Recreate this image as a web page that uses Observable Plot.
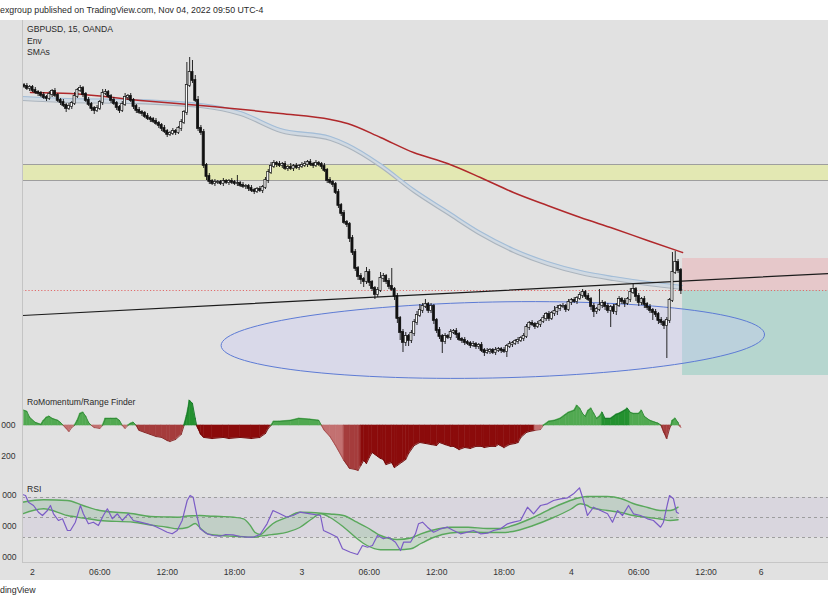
<!DOCTYPE html>
<html>
<head>
<meta charset="utf-8">
<script src="https://cdn.jsdelivr.net/npm/d3@7"></script>
<script src="https://cdn.jsdelivr.net/npm/@observablehq/plot@0.6"></script>
<style>
  html,body{margin:0;padding:0;background:#fff;}
  body{font-family:"Liberation Sans",Arial,Helvetica,sans-serif;}
  #wrap{position:relative;width:828px;height:604px;overflow:hidden;background:#fff;}
  #header{position:absolute;left:0;top:0;width:828px;height:20px;line-height:20px;font-size:8.8px;color:#2a2a2a;white-space:nowrap;}
  #chart{position:absolute;left:0;top:20px;width:828px;height:560px;background:#e1e1e1;overflow:hidden;}
  .pane{position:absolute;left:0;width:828px;}
  .pane svg{display:block;}
  .lbl{position:absolute;left:27px;font-size:8.6px;line-height:10px;color:#2a2a2a;white-space:nowrap;}
  #footer{position:absolute;left:0;top:585px;font-size:8.8px;line-height:10px;color:#2a2a2a;white-space:nowrap;}
</style>
</head>
<body>
<div id="wrap">
  <div id="header">exgroup published on TradingView.com, Nov 04, 2022 09:50 UTC-4</div>
  <div id="chart">
    <div id="price" class="pane" style="top:0px"></div>
    <div id="mom" class="pane" style="top:370px"></div>
    <div id="rsi" class="pane" style="top:455px"></div>
    <div class="lbl" style="top:4px">GBPUSD, 15, OANDA</div>
    <div class="lbl" style="top:16px">Env</div>
    <div class="lbl" style="top:27px">SMAs</div>
    <div class="lbl" style="top:377px">RoMomentum/Range Finder</div>
    <div class="lbl" style="top:464px">RSI</div>
  </div>
  <div id="footer">dingView</div>
</div>
<script>
// ---------- time axis (hours since Nov 2, 00:00) ----------
const X_DOMAIN = [-0.89, 70.9];
const xTickHours  = [0, 6, 12, 18, 24, 30, 36, 42, 48, 54, 60, 64.9];
const xTickLabels = ["2", "06:00", "12:00", "18:00", "3", "06:00", "12:00", "18:00", "4", "06:00", "12:00", "6"];

// ---------- GBPUSD 15m candles ----------
const barStart = -0.75;   // first bar, Nov 1 23:15
const barStep = 0.25;     // 15 minutes
const PIP = 0.0001;
const firstOpen = 1.1415;
const closes = [
1.1414,1.1412,1.1413,1.1410,1.1408,1.1407,1.1405,1.1403,1.1402,1.1406,
1.1409,1.1405,1.1400,1.1398,1.1395,1.1392,1.1394,1.1397,1.1404,1.1410,
1.1412,1.1406,1.1400,1.1396,1.1392,1.1390,1.1392,1.1398,1.1407,1.1408,
1.1404,1.1400,1.1397,1.1393,1.1390,1.1396,1.1403,1.1404,1.1400,1.1394,
1.1390,1.1388,1.1387,1.1384,1.1382,1.1381,1.1379,1.1377,1.1375,1.1372,
1.1369,1.1366,1.1367,1.1369,1.1368,1.1372,1.1378,1.1388,1.1415,1.1428,
1.1420,1.1400,1.1372,1.1368,1.1335,1.1324,1.1319,1.1317,1.1318,1.1318,
1.1317,1.1319,1.1318,1.1319,1.1318,1.1317,1.1317,1.1315,1.1314,1.1314,
1.1312,1.1310,1.1309,1.1311,1.1310,1.1313,1.1320,1.1328,1.1334,1.1337,
1.1336,1.1335,1.1336,1.1332,1.1333,1.1332,1.1334,1.1333,1.1334,1.1335,
1.1336,1.1338,1.1336,1.1335,1.1337,1.1336,1.1334,1.1330,1.1320,1.1318,
1.1316,1.1308,1.1295,1.1287,1.1278,1.1276,1.1262,1.1248,1.1232,1.1224,
1.1221,1.1219,1.1228,1.1218,1.1212,1.1206,1.1210,1.1222,1.1224,1.1219,
1.1214,1.1211,1.1204,1.1182,1.1168,1.1158,1.1164,1.1160,1.1167,1.1178,
1.1185,1.1190,1.1194,1.1196,1.1190,1.1194,1.1180,1.1170,1.1164,1.1159,
1.1164,1.1163,1.1168,1.1169,1.1166,1.1161,1.1160,1.1158,1.1157,1.1155,
1.1156,1.1154,1.1155,1.1150,1.1148,1.1149,1.1150,1.1148,1.1150,1.1151,
1.1150,1.1149,1.1154,1.1156,1.1157,1.1159,1.1160,1.1162,1.1164,1.1173,
1.1177,1.1176,1.1174,1.1176,1.1179,1.1182,1.1186,1.1182,1.1187,1.1189,
1.1192,1.1194,1.1194,1.1191,1.1198,1.1200,1.1199,1.1202,1.1205,1.1208,
1.1204,1.1201,1.1194,1.1189,1.1191,1.1195,1.1197,1.1194,1.1190,1.1193,
1.1189,1.1195,1.1201,1.1199,1.1197,1.1201,1.1208,1.1211,1.1204,1.1198,
1.1201,1.1196,1.1193,1.1190,1.1188,1.1186,1.1180,1.1178,1.1175,1.1180,
1.1200,1.1228,1.1238,1.1230,1.1210];
const upperWickPips = [
2,3,2,2,3,2,2,3,2,3, 2,3,2,2,3,2,3,2,4,2, 3,2,2,3,2,2,3,2,4,3, 2,2,3,2,2,3,4,2,3,2,
2,3,2,2,3,2,2,3,2,2, 3,2,2,3,2,2,3,2,23,15, 12,5,4,3,3,2,3,2,3,2, 2,3,2,2,3,2,8,2,3,2,
2,3,2,2,3,2,3,3,4,3, 2,3,2,3,2,4,2,3,2,3, 3,2,3,2,3,2,2,3,2,3, 2,2,3,2,3,2,2,3,3,2,
3,2,5,3,2,2,3,6,3,2, 3,18,2,3,2,3,4,2,3,3, 4,6,3,5,2,3,2,2,3,2, 3,2,3,2,3,2,2,3,2,2,
3,2,2,3,2,3,2,2,3,2, 2,3,2,3,2,2,3,2,3,3, 2,3,2,3,2,3,2,3,2,5, 3,2,3,2,3,2,3,2,3,3,
2,3,2,3,2,16,3,2,3,2, 3,2,3,2,3,2,4,5,2,3, 2,3,2,3,2,3,2,3,2,3, 2,20,11,3,2];
const lowerWickPips = [
2,2,3,2,2,3,2,2,3,2, 3,2,2,3,2,4,2,3,2,2, 2,3,2,2,3,4,2,2,3,2, 2,3,2,3,3,2,2,3,2,3,
3,2,3,2,2,3,2,2,3,3, 2,3,2,2,3,2,3,2,3,2, 3,2,3,3,3,4,3,2,3,2, 2,3,2,3,2,2,3,2,2,3,
3,2,3,2,2,3,2,3,2,2, 3,2,3,2,3,2,3,2,3,2, 2,3,2,3,2,2,3,2,3,2, 3,2,3,3,2,3,4,3,3,4,
5,6,3,4,3,5,3,2,4,3, 3,2,4,5,8,10,4,6,3,3, 3,2,3,2,3,3,4,3,3,12, 3,2,3,2,4,2,3,3,2,3,
2,3,3,2,4,2,3,2,3,2, 3,2,6,2,3,2,3,2,3,2, 3,2,3,2,3,2,3,3,2,3, 4,3,2,3,2,3,2,3,2,3,
3,2,4,6,3,2,3,4,3,17, 3,4,2,3,4,2,3,2,5,4, 3,4,3,3,8,3,4,3,4,33, 3,2,2,3,4];

// ---------- price-pane overlays ----------
const PRICE_DOMAIN = [1.1110, 1.1480];
const smaRed = [[-0.18,1.1408],[3.38,1.1407],[9.6,1.1400],[14.96,1.1395],[22.09,1.1387],[26.54,1.1381],[28.06,1.1377],[31.0,1.1363],[33.94,1.1348],[36.97,1.1337],[39.9,1.1323],[42.84,1.1308],[45.87,1.1295],[48.81,1.1283],[51.75,1.1272],[54.78,1.1260],[57.9,1.1248]];
const envH  = [-0.89,3.12,8.73,14.96,18.53,22.09,26.54,28.06,31.0,33.94,36.97,39.9,42.84,45.87,48.81,51.75,54.78,57.9];
const envUp = [1.1404,1.1402,1.1401,1.1397,1.1389,1.1372,1.1364,1.1357,1.1337,1.1312,1.1290,1.1269,1.1252,1.1239,1.1230,1.1224,1.1219,1.1215];
const envLo = [1.1400,1.1398,1.1397,1.1393,1.1385,1.1368,1.1360,1.1353,1.1333,1.1308,1.1286,1.1265,1.1248,1.1235,1.1226,1.1220,1.1215,1.1211];
const trendLine = [[-0.89,1.1185],[70.9,1.1227]];
const supplyZone = {lo: 1.1320, hi: 1.1336};
const lastPrice = 1.1210;
const positionBoxes = [
  {from: 57.9, to: 70.9, lo: 1.1210, hi: 1.1242, fill: "#e6c8ca"},
  {from: 57.9, to: 70.9, lo: 1.1125, hi: 1.1210, fill: "#b6d6cf"}
];
const ellipse = {h: 41.0, p: 1.11605, rh: 24.2, rp: 0.0038, tilt: 0.0000227};

// ---------- RoMomentum / Range Finder: [hour, value, shade] ----------
const MOM_DOMAIN = [-0.03226, 0.02258];
const momTicks = [0, -0.02];
const momAxisLabels = ["000", "200"];
const momentum = [
[-0.75,0.0097,'g'],[-0.5,0.0090,'g'],[-0.25,0.0052,'g'],[0.25,0.0019,'g'],[0.75,0.0006,'g'],[1.0,0.0032,'g'],[1.25,0.0052,'g'],[1.5,0.0058,'g'],[1.75,0.0045,'g'],[2.25,0.0032,'g'],[2.5,0.0019,'g'],[2.75,0,'g'],
[3.0,-0.0019,'p'],[3.25,-0.0039,'p'],[3.5,-0.0013,'p'],[3.75,0,'p'],
[4.0,0.0032,'g'],[4.25,0.0077,'g'],[4.5,0.0084,'g'],[4.75,0.0058,'g'],[5.0,0.0019,'g'],[5.25,0,'g'],
[5.5,-0.0013,'p'],[6.0,-0.0019,'p'],[6.25,0,'p'],
[6.5,0.0045,'g'],[7.0,0.0045,'g'],[7.5,0.0045,'g'],[7.75,0.0032,'g'],[8.0,0,'g'],
[8.25,-0.0019,'p'],[8.5,0,'p'],
[8.75,0.0013,'g'],[9.0,0.0019,'g'],[9.25,0,'g'],
[9.5,-0.0032,'m'],[10.0,-0.0045,'m'],[10.5,-0.0058,'m'],[11.0,-0.0071,'m'],[11.5,-0.0077,'m'],[12.0,-0.0097,'m'],[12.25,-0.0103,'m'],[12.75,-0.0090,'m'],[13.25,-0.0058,'m'],[13.5,0,'m'],
[13.75,0.0065,'G'],[14.0,0.0161,'G'],[14.25,0.0142,'G'],[14.5,0.0045,'G'],[14.625,0,'G'],
[14.75,-0.0019,'d'],[15.0,-0.0058,'d'],[15.25,-0.0077,'d'],[16.0,-0.0084,'d'],[17.0,-0.0077,'d'],[17.5,-0.0084,'d'],[18.5,-0.0077,'d'],[19.5,-0.0084,'d'],[20.25,-0.0077,'d'],[20.75,-0.0052,'d'],[21.0,-0.0019,'d'],[21.25,0,'d'],
[21.5,0.0026,'g'],[22.0,0.0026,'g'],[23.0,0.0032,'g'],[23.75,0.0045,'g'],[24.75,0.0039,'g'],[25.5,0.0032,'g'],[25.75,0,'g'],
[26.0,-0.0032,'p'],[26.5,-0.0071,'p'],[27.0,-0.0129,'p'],[27.25,-0.0161,'p'],[27.75,-0.0226,'p'],
[28.25,-0.0277,'m'],[28.75,-0.0284,'m'],[29.0,-0.0290,'m'],[29.25,-0.0258,'m'],
[29.5,-0.0226,'d'],[29.75,-0.0245,'d'],[30.0,-0.0206,'d'],[30.25,-0.0174,'d'],[30.75,-0.0200,'d'],[31.0,-0.0213,'d'],[31.25,-0.0219,'d'],[31.5,-0.0252,'d'],[32.0,-0.0239,'d'],[32.25,-0.0271,'d'],[32.5,-0.0258,'d'],[33.0,-0.0232,'d'],[33.25,-0.0219,'d'],[33.5,-0.0181,'d'],[34.0,-0.0129,'d'],[34.5,-0.0110,'d'],[35.0,-0.0116,'d'],[35.5,-0.0123,'d'],[36.0,-0.0129,'d'],[36.25,-0.0110,'d'],[36.75,-0.0123,'d'],[37.25,-0.0135,'d'],[37.5,-0.0135,'d'],[38.0,-0.0155,'d'],[38.5,-0.0142,'d'],[39.0,-0.0148,'d'],[39.5,-0.0135,'d'],[40.0,-0.0135,'d'],[40.25,-0.0142,'d'],[40.75,-0.0135,'d'],[41.25,-0.0135,'d'],[41.5,-0.0123,'d'],[42.0,-0.0142,'d'],[42.5,-0.0123,'d'],[43.0,-0.0116,'d'],[43.25,-0.0110,'d'],[43.5,-0.0077,'d'],[44.0,-0.0045,'d'],[44.25,-0.0039,'d'],[44.75,-0.0032,'d'],
[45.25,-0.0026,'p'],[45.5,0,'p'],
[46.0,0.0026,'g'],[46.5,0.0032,'g'],[47.0,0.0045,'g'],[47.5,0.0071,'g'],[47.75,0.0084,'g'],[48.25,0.0097,'g'],[48.5,0.0129,'g'],[48.75,0.0110,'g'],[49.0,0.0077,'g'],[49.25,0.0058,'g'],[49.5,0.0097,'g'],[49.75,0.0110,'g'],[50.0,0.0077,'g'],[50.25,0.0045,'g'],[50.5,0.0058,'g'],[50.75,0.0084,'g'],
[51.0,0.0045,'G'],[51.5,0.0045,'G'],[52.0,0.0071,'G'],[52.25,0.0077,'G'],[52.75,0.0097,'G'],[53.0,0.0110,'G'],[53.25,0.0084,'G'],
[53.5,0.0077,'g'],[54.0,0.0077,'g'],[54.25,0.0097,'g'],[54.5,0.0058,'g'],[55.0,0.0032,'g'],[55.5,0.0019,'g'],[55.75,0.0013,'g'],[56.0,0,'g'],
[56.25,-0.0045,'m'],[56.5,-0.0084,'m'],[56.75,-0.0019,'m'],[56.875,0,'m'],
[57.0,0.0032,'g'],[57.25,0.0045,'g'],[57.5,0.0019,'g'],[57.6,0,'g'],
[57.75,-0.0013,'p']];
const MOM_FILL = {g: "#51a951", G: "#23912f", p: "#c37171", m: "#a53c3c", d: "#8b0b0b"};
const MOM_EDGE = {g: "#2f8a35", G: "#17782a", p: "#a44c4c", m: "#862626", d: "#6e0505"};

// ---------- RSI ----------
const RSI_DOMAIN = [5, 92];
const rsiLevels = [70, 50, 30];
const rsiAxisTicks = [72, 41, 10];
const rsiAxisLabels = ["000", "000", "000"];
const rsi = [
[-0.89,73],[-0.62,72],[-0.36,65.3],[0.09,62],[0.53,55.3],[0.89,52],[1.33,57],[1.6,62],[1.87,53.7],[2.31,47],[2.67,48.7],[3.11,37],[3.38,37],[3.82,45.3],[4.27,62],[4.53,53.7],[4.98,43.7],[5.42,45.3],[5.87,42],[6.31,52],[6.67,58.7],[7.11,48.7],[7.56,53.7],[8.0,47],[8.53,53.7],[8.98,47],[9.6,45.3],[10.22,43.7],[10.76,42],[11.38,38.7],[12.0,35.3],[12.44,33.7],[12.89,37],[13.33,47],[13.78,67],[14.04,72],[14.31,70.3],[14.67,50.3],[14.93,38.7],[15.56,33.7],[16.09,32],[16.71,31.3],[17.2,33],[17.87,32.7],[18.49,31],[19.11,30.3],[19.64,30.3],[20.27,33],[20.89,43.7],[21.42,57],[22.04,53.7],[22.67,50.3],[23.2,52],[23.82,55.3],[24.76,53.7],[25.65,52],[25.92,37],[26.54,33.7],[27.16,30.3],[27.61,18.7],[28.32,15.3],[28.95,13],[29.39,22],[29.84,20.3],[30.28,22],[30.73,32],[31.26,28.7],[31.71,30.3],[32.33,25.3],[32.78,17],[33.05,25.3],[33.67,25.3],[34.11,33.7],[34.38,43.7],[34.74,45.3],[35.18,40.3],[35.72,35.3],[36.07,37],[36.34,38.7],[36.96,40.3],[37.5,37],[38.12,33.7],[38.75,35.3],[39.28,37],[39.9,33.7],[40.53,34.3],[41.06,37],[41.69,38.7],[42.31,43.7],[42.84,45.3],[43.47,47],[44.09,60.3],[44.36,57],[44.63,53.7],[45.25,62],[45.87,63.7],[46.41,67],[47.03,68.7],[47.66,69.7],[48.19,73.7],[48.72,79.7],[48.99,70.3],[49.43,52],[49.97,60.3],[50.59,57],[51.22,53.7],[51.66,45.3],[52.11,57],[52.55,52],[53.09,62],[53.53,53.7],[54.16,52],[54.78,48.7],[55.31,47],[55.94,40.3],[56.2,45.3],[56.56,63.7],[56.74,72],[57.09,68.7],[57.36,55.3],[57.54,54.3]];
const bandH  = [-0.89,1.0,3.1,4.5,6.0,9.0,10.5,12.0,12.9,13.8,14.5,14.9,15.6,16.7,17.9,18.8,19.4,19.8,20.3,20.9,21.4,22.7,23.8,24.8,25.7,26.5,27.7,28.9,29.8,31.0,32.5,33.7,34.6,35.7,37.2,38.8,40.5,41.7,42.8,44.6,46.4,47.9,48.8,49.4,49.7,51.2,52.4,53.5,54.8,55.9,56.8,57.5];
const bandUp = [65.3,67.7,67,62,57,53.7,51,50.5,50.3,51.5,51.8,52,51.5,51,50.3,48.7,42,35.3,33,38.7,43.7,50.3,55.3,55,54.3,53.5,52,45.3,40,32,28,29.5,33.7,37.5,40.3,40.3,39,39,42,50,60,67,70,71,71,71,69,64,60,57,57,60.3];
const bandLo = [53.7,58.7,52,49.5,47,45.3,42.5,40.3,38.7,40,44,40,33.7,32,31.2,30.7,30.4,30.3,31.5,32.2,33,35.3,40,48,53.7,50,40.5,29,22,17.8,17.7,18.7,24,30,34.5,35.5,35,35,36,42,50,58,63.7,62,60,57,55,52,50,48.5,47,47.7];

// ---------- build tables ----------
const bars = closes.map((c, i) => {
  const o = i === 0 ? firstOpen : closes[i - 1];
  return {t: barStart + barStep * i, o, c,
          hi: Math.max(o, c) + upperWickPips[i] * PIP,
          lo: Math.min(o, c) - lowerWickPips[i] * PIP};
});
const envRows = envH.map((h, i) => ({h, up: envUp[i], lo: envLo[i]}));
const smaRows = smaRed.map(([h, p]) => ({h, p}));
const trendRows = trendLine.map(([h, p]) => ({h, p}));
const ellipsePts = d3.range(0, 361, 3).map(deg => {
  const a = deg * Math.PI / 180, dh = ellipse.rh * Math.cos(a);
  return {h: ellipse.h + dh, p: ellipse.p + ellipse.rp * Math.sin(a) + ellipse.tilt * dh};
});
const momRows = [];
for (let i = 1; i < momentum.length; i++) {
  const a = momentum[i - 1], b = momentum[i];
  momRows.push({seg: i, h: a[0], v: a[1], s: b[2]}, {seg: i, h: b[0], v: b[1], s: b[2]});
}
const rsiRows = rsi.map(([h, v]) => ({h, v}));
const bandRows = bandH.map((h, i) => ({h, up: bandUp[i], lo: bandLo[i]}));

const FONT = "'Liberation Sans', Arial, Helvetica, sans-serif";
const common = {
  width: 828, marginLeft: 22, marginRight: 0,
  color: {type: "identity"},
  style: {background: "transparent", fontFamily: FONT, fontSize: "8.6px", color: "#333", overflow: "hidden"}
};

// ---------- price pane ----------
const pricePlot = Plot.plot({
  ...common, height: 370, marginTop: 0, marginBottom: 0,
  x: {domain: X_DOMAIN, axis: null},
  y: {domain: PRICE_DOMAIN, axis: null},
  marks: [
    Plot.rect([supplyZone], {x1: X_DOMAIN[0], x2: X_DOMAIN[1], y1: "lo", y2: "hi", fill: "#e3e8b3"}),
    Plot.ruleY([supplyZone.lo, supplyZone.hi], {stroke: "#9e9e9e", strokeWidth: 1}),
    Plot.rect(positionBoxes, {x1: "from", x2: "to", y1: "lo", y2: "hi", fill: "fill", clip: true}),
    Plot.line(ellipsePts, {x: "h", y: "p", fill: "rgba(200,200,252,0.30)", stroke: "#5d7bd5", strokeWidth: 1, clip: true}),
    Plot.ruleY([lastPrice], {stroke: "#e06b6b", strokeDasharray: "1.2,2", strokeWidth: 1}),
    Plot.areaY(envRows, {x: "h", y1: "lo", y2: "up", fill: "#d0d9e2", curve: "monotone-x", clip: true}),
    Plot.line(envRows, {x: "h", y: "up", stroke: "#a3bdd7", strokeWidth: 1.2, curve: "monotone-x", clip: true}),
    Plot.line(envRows, {x: "h", y: "lo", stroke: "#aab4be", strokeWidth: 1.2, curve: "monotone-x", clip: true}),
    Plot.line(smaRows, {x: "h", y: "p", stroke: "#b0282b", strokeWidth: 1.5, curve: "monotone-x", clip: true}),
    Plot.line(trendRows, {x: "h", y: "p", stroke: "#1c1c1c", strokeWidth: 1.2, clip: true}),
    Plot.ruleX(bars, {x: "t", y1: "lo", y2: "hi", stroke: "#111", strokeWidth: 0.9, clip: true}),
    Plot.rect(bars, {x1: d => d.t - 0.095, x2: d => d.t + 0.095, y1: "o", y2: "c",
      fill: d => d.c >= d.o ? "#fafafa" : "#111", stroke: "#111", strokeWidth: 0.7,
      insetTop: -0.4, insetBottom: -0.4, clip: true}),
    Plot.frame({anchor: "left", stroke: "#c4c4c4"})
  ]
});
document.getElementById("price").appendChild(pricePlot);

// ---------- momentum pane ----------
const momPlot = Plot.plot({
  ...common, height: 85, marginTop: 0, marginBottom: 0,
  x: {domain: X_DOMAIN, axis: null},
  y: {domain: MOM_DOMAIN},
  marks: [
    Plot.areaY(momRows, {x: "h", y1: 0, y2: "v", z: "seg", fill: d => MOM_FILL[d.s], stroke: d => MOM_FILL[d.s], strokeWidth: 0.6, clip: true}),
    Plot.line(momRows, {x: "h", y: "v", z: "seg", stroke: d => MOM_EDGE[d.s], strokeWidth: 0.9, clip: true}),
    Plot.axisY({anchor: "left", ticks: momTicks, tickFormat: d => momAxisLabels[momTicks.indexOf(d)], tickSize: 0, tickPadding: 7, label: null}),
    Plot.frame({anchor: "left", stroke: "#c4c4c4"})
  ]
});
document.getElementById("mom").appendChild(momPlot);

// ---------- RSI pane ----------
const rsiPlot = Plot.plot({
  ...common, height: 105, marginTop: 0, marginBottom: 18,
  x: {domain: X_DOMAIN},
  y: {domain: RSI_DOMAIN},
  marks: [
    Plot.rect([{lo: 30, hi: 70}], {x1: X_DOMAIN[0], x2: X_DOMAIN[1], y1: "lo", y2: "hi", fill: "rgba(126,87,194,0.075)"}),
    Plot.ruleY(rsiLevels, {stroke: "#8e8e8e", strokeDasharray: "3,3", strokeWidth: 0.8}),
    Plot.areaY(bandRows, {x: "h", y1: "lo", y2: "up", fill: "rgba(80,170,85,0.17)", curve: "monotone-x", clip: true}),
    Plot.line(bandRows, {x: "h", y: "up", stroke: "#5aa85c", strokeWidth: 1.4, curve: "monotone-x", clip: true}),
    Plot.line(bandRows, {x: "h", y: "lo", stroke: "#5aa85c", strokeWidth: 1.4, curve: "monotone-x", clip: true}),
    Plot.line(rsiRows, {x: "h", y: "v", stroke: "#7b5cc6", strokeWidth: 1.2, clip: true}),
    Plot.frame({anchor: "bottom", stroke: "#c6c6c6"}),
    Plot.frame({anchor: "left", stroke: "#c4c4c4"}),
    Plot.axisX({ticks: xTickHours, tickFormat: d => xTickLabels[xTickHours.indexOf(d)], tickSize: 0, tickPadding: 6, label: null}),
    Plot.axisY({anchor: "left", ticks: rsiAxisTicks, tickFormat: d => rsiAxisLabels[rsiAxisTicks.indexOf(d)], tickSize: 0, tickPadding: 6, label: null})
  ]
});
document.getElementById("rsi").appendChild(rsiPlot);
</script>
</body>
</html>
